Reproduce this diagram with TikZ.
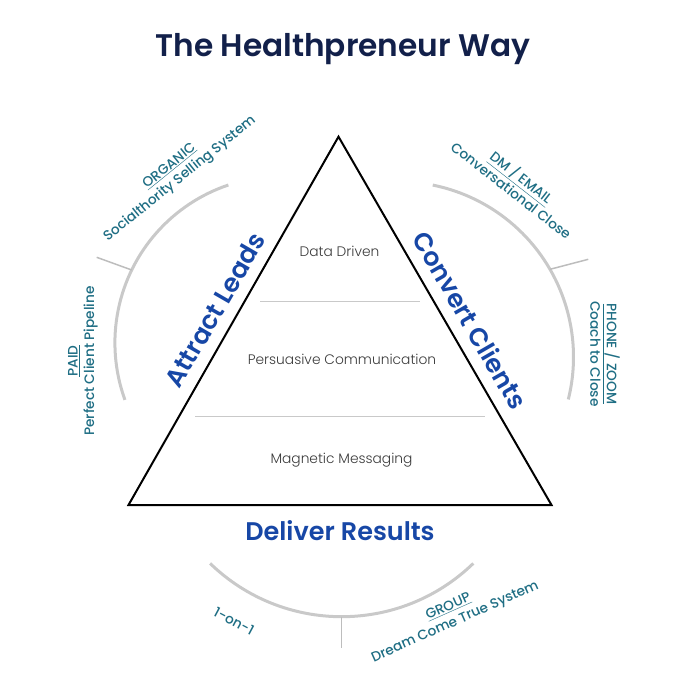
\documentclass[tikz,border=0pt]{standalone}
\usepackage{fontspec}
\setmainfont{Poppins}
\newfontfamily\popsb{Poppins SemiBold}
\newfontfamily\popmd{Poppins Medium}
\newfontfamily\poplt{Poppins Light}
\definecolor{titlenavy}{HTML}{12204A}
\definecolor{bigblue}{HTML}{1747A6}
\definecolor{labteal}{HTML}{1F6E84}
\definecolor{arcgray}{HTML}{C9C9C9}
\definecolor{tickgray}{HTML}{BDBDBD}
\definecolor{innergray}{HTML}{3A3A3A}
\tikzset{
  titletext/.style={font=\popsb\fontsize{31.2}{36}\selectfont, text=titlenavy, inner sep=0pt},
  bigtext/.style={font=\popsb\fontsize{25.5}{30}\selectfont, text=bigblue, inner sep=0pt},
  layertext/.style={font=\poplt\fontsize{13.8}{16}\selectfont, text=innergray, inner sep=0pt},
  subtext/.style={font=\popmd\fontsize{13.7}{16.5}\selectfont, text=labteal, align=center, inner sep=0pt},
  arcline/.style={draw=arcgray, line width=3pt},
  tickline/.style={draw=tickgray, line width=1.5pt},
  divider/.style={draw=arcgray, line width=1pt},
  pyramid/.style={draw=black, line width=2pt, line join=miter}
}
\begin{document}
\begin{tikzpicture}[x=1pt,y=-1pt]
\useasboundingbox (0,0) rectangle (680,680);
% title
\node[titletext, anchor=base] (title) at (343,56.7) {The Healthpreneur Way};
% triangle
\coordinate (apex) at (338.5,136.7);
\coordinate (bl) at (128.5,505);
\coordinate (br) at (551.5,505);
\draw[pyramid] (apex) -- (bl) -- (br) -- cycle;
% dividers
\coordinate (d1l) at (260,301.7);
\coordinate (d1r) at (420,301.7);
\coordinate (d2l) at (195,416.7);
\coordinate (d2r) at (485,416.7);
\draw[divider] (d1l) -- (d1r);
\draw[divider] (d2l) -- (d2r);
% layer texts
\node[layertext, anchor=base] (datadriven) at (339.5,256) {Data Driven};
\node[layertext, anchor=base] (persuasive) at (342,364) {Persuasive Communication};
\node[layertext, anchor=base] (magnetic) at (341.5,463.3) {Magnetic Messaging};
% big labels
\node[bigtext, rotate=60] (attract) at (215,310) {Attract Leads};
\node[bigtext, rotate=-60] (convert) at (470.5,320) {Convert Clients};
\node[bigtext, anchor=base] (deliver) at (340,540.7) {Deliver Results};
% arcs
\coordinate (lc) at (281.5,342.9);
\coordinate (rc) at (398.1,357);
\coordinate (bc) at (341.7,427.6);
\draw[arcline] (lc) ++(-108.6:166.6) arc[start angle=-108.6, end angle=-200, radius=166.6];
\draw[arcline] (rc) ++(-78.6:175.4) arc[start angle=-78.6, end angle=14, radius=175.4];
\draw[arcline] (bc) ++(-225.9:189.1) arc[start angle=-225.9, end angle=-314.1, radius=189.1];
% ticks
\coordinate (lt1) at (131.7,270);
\coordinate (lt2) at (96.7,257.3);
\coordinate (rt1) at (550,269.3);
\coordinate (rt2) at (588.3,259.3);
\coordinate (bt1) at (341.7,616.7);
\coordinate (bt2) at (341.7,648.3);
\draw[tickline] (lt1) -- (lt2);
\draw[tickline] (rt1) -- (rt2);
\draw[tickline] (bt1) -- (bt2);
% sub labels
\node[subtext, rotate=39] (organic) at (175,173) {\underline{ORGANIC}\\Socialthority Selling System};
\node[subtext, rotate=90] (paid) at (83,361) {\underline{PAID}\\Perfect Client Pipeline};
\node[subtext, rotate=-38] (dmemail) at (517,183) {\underline{DM / EMAIL}\\Conversational Close};
\node[subtext, rotate=-90] (phone) at (605,354) {\underline{PHONE / ZOOM}\\Coach to Close};
\node[subtext, rotate=-28] (oneonone) at (234,621) {1-on-1};
\node[subtext, rotate=24] (group) at (452,615) {\underline{GROUP}\\Dream Come True System};
\end{tikzpicture}
\end{document}
